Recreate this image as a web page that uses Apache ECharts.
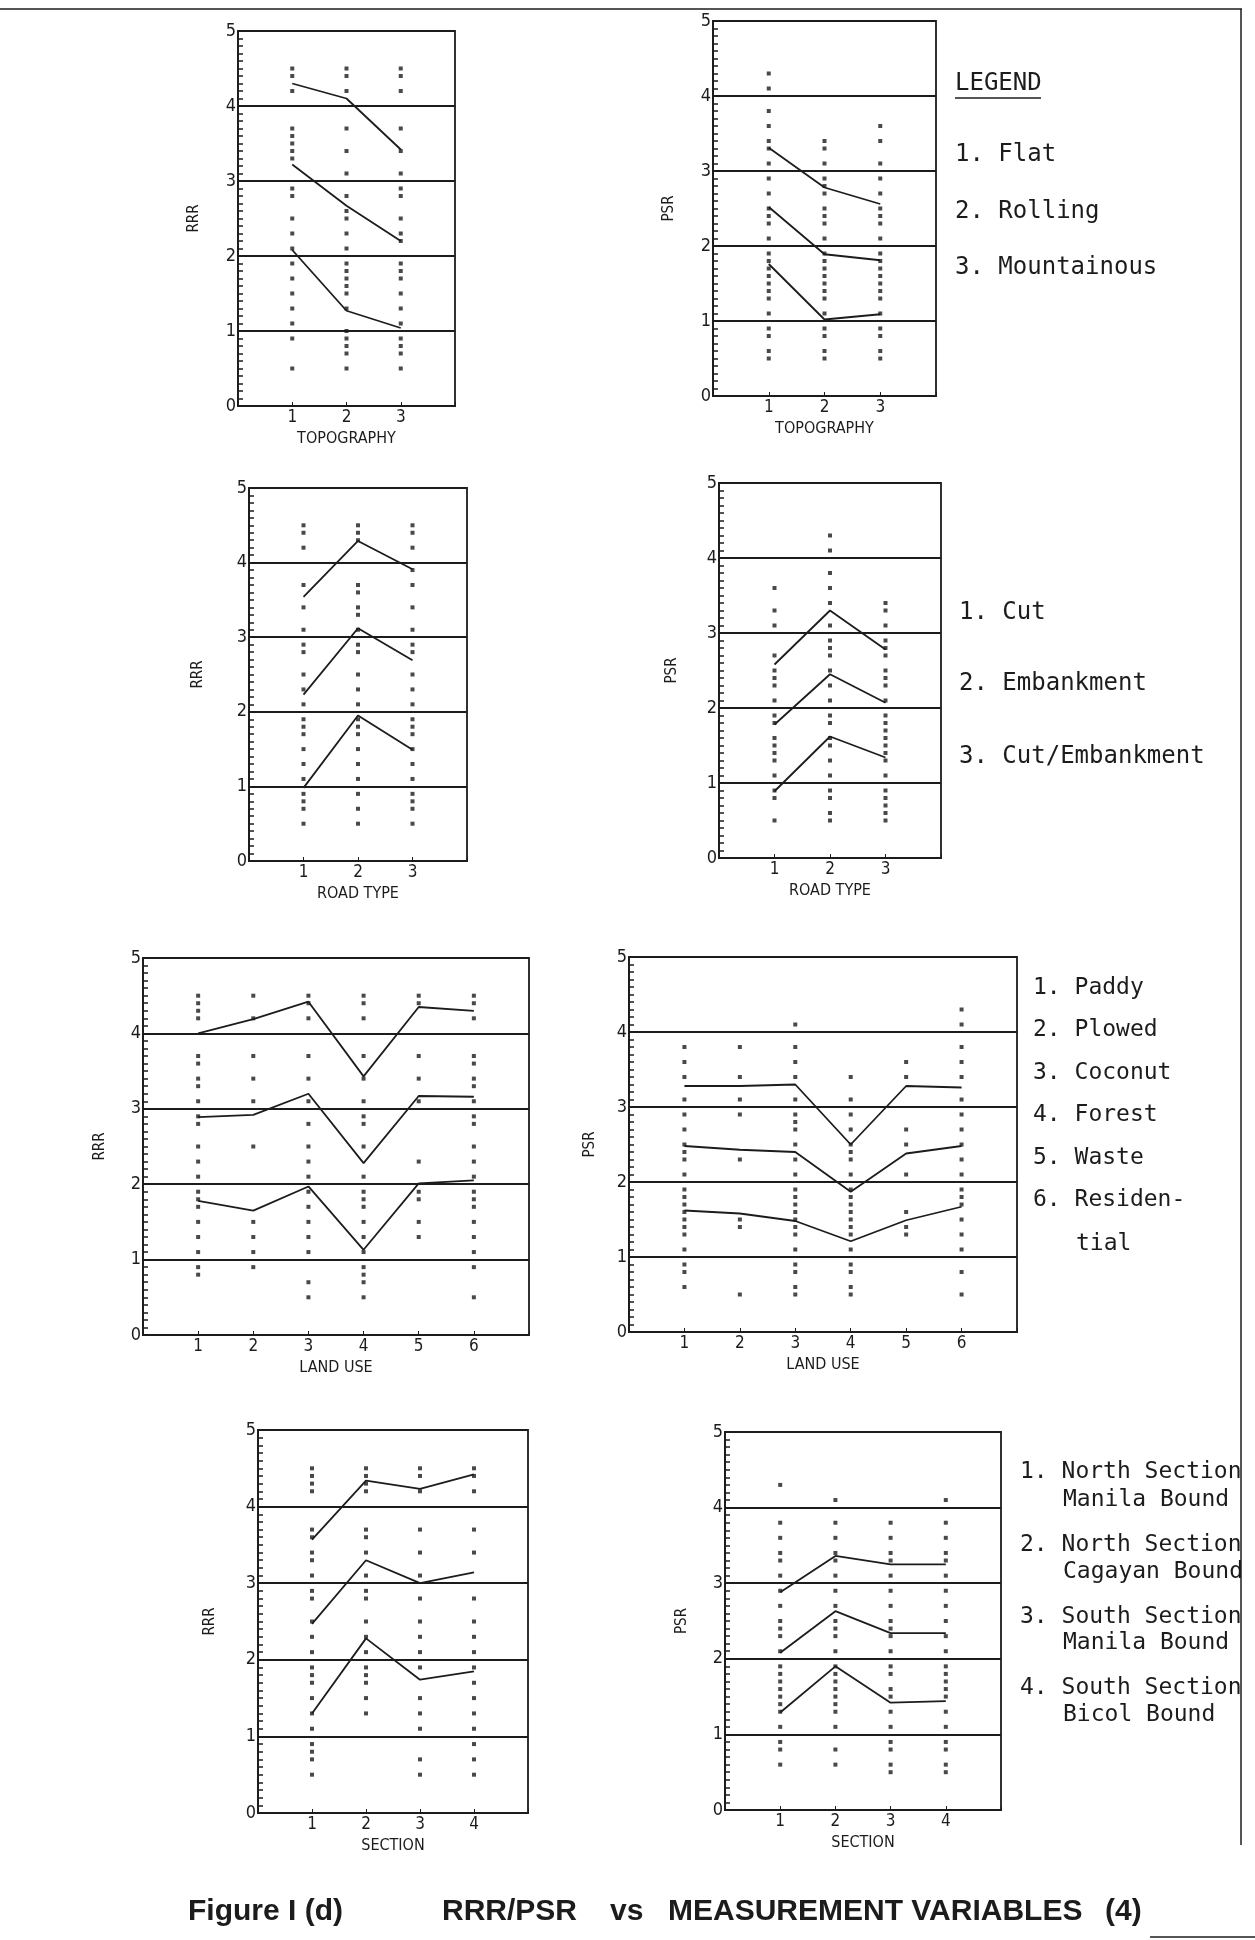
<!DOCTYPE html>
<html lang="en">
<head>
<meta charset="UTF-8">
<title>RRR/PSR vs Measurement Variables (4)</title>
<style>
  html, body { margin: 0; padding: 0; background: #fff; }
  #main { width: 1255px; height: 1940px; }
</style>
</head>
<body>
<div id="main"></div>
<script src="https://cdn.jsdelivr.net/npm/echarts@6/dist/echarts.min.js"></script>
<script type="text/javascript">
    // category tick labels
    var topoCats = ['1', '2', '3'];
    var roadCats = ['1', '2', '3'];
    var landCats = ['1', '2', '3', '4', '5', '6'];
    var sectionCats = ['1', '2', '3', '4'];

    // three lines per panel (upper, middle, lower), one value per category
    var topoRrrLines = [[4.3, 4.1, 3.42], [3.22, 2.67, 2.2], [2.08, 1.27, 1.04]];
    var topoPsrLines = [[3.31, 2.78, 2.56], [2.52, 1.89, 1.81], [1.76, 1.02, 1.09]];
    var roadRrrLines = [[3.54, 4.29, 3.91], [2.23, 3.12, 2.69], [0.98, 1.95, 1.49]];
    var roadPsrLines = [[2.58, 3.3, 2.78], [1.78, 2.45, 2.07], [0.89, 1.62, 1.34]];
    var landRrrLines = [[4.0, 4.19, 4.42, 3.43, 4.35, 4.3], [2.89, 2.92, 3.2, 2.28, 3.17, 3.16], [1.78, 1.65, 1.97, 1.13, 2.01, 2.05]];
    var landPsrLines = [[3.28, 3.28, 3.3, 2.5, 3.28, 3.26], [2.48, 2.43, 2.4, 1.87, 2.38, 2.48], [1.62, 1.58, 1.48, 1.21, 1.49, 1.67]];
    var sectionRrrLines = [[3.57, 4.34, 4.23, 4.42], [2.47, 3.3, 3.0, 3.14], [1.3, 2.28, 1.74, 1.85]];
    var sectionPsrLines = [[2.88, 3.36, 3.25, 3.25], [2.08, 2.63, 2.34, 2.34], [1.29, 1.9, 1.42, 1.44]];

    // observation dots, one column per category
    var topoRrrDots = [
        [4.5, 4.4, 4.2, 3.7, 3.6, 3.5, 3.4, 3.3, 2.9, 2.8, 2.5, 2.3, 2.1, 1.9, 1.7, 1.5, 1.3, 1.1, 0.9, 0.5],
        [4.5, 4.4, 4.2, 3.7, 3.4, 3.1, 2.8, 2.6, 2.5, 2.3, 2.1, 1.9, 1.8, 1.7, 1.6, 1.5, 1.3, 1.0, 0.9, 0.8, 0.7, 0.5],
        [4.5, 4.4, 4.2, 3.7, 3.4, 3.1, 2.9, 2.8, 2.5, 2.3, 2.2, 1.9, 1.8, 1.7, 1.5, 1.3, 1.1, 0.9, 0.8, 0.7, 0.5]
    ];
    var topoPsrDots = [
        [4.3, 4.1, 3.8, 3.6, 3.4, 3.3, 3.1, 2.9, 2.7, 2.5, 2.4, 2.3, 2.1, 1.9, 1.8, 1.7, 1.6, 1.5, 1.4, 1.3, 1.1, 0.9, 0.8, 0.6, 0.5],
        [3.4, 3.3, 3.1, 2.9, 2.8, 2.7, 2.5, 2.4, 2.3, 2.1, 1.9, 1.8, 1.7, 1.6, 1.5, 1.4, 1.3, 1.1, 0.9, 0.8, 0.6, 0.5],
        [3.6, 3.4, 3.1, 2.9, 2.7, 2.5, 2.4, 2.3, 2.1, 1.9, 1.8, 1.7, 1.6, 1.5, 1.4, 1.3, 1.1, 0.9, 0.8, 0.6, 0.5]
    ];
    var roadRrrDots = [
        [4.5, 4.4, 4.2, 3.7, 3.4, 3.1, 2.9, 2.8, 2.5, 2.3, 2.1, 1.9, 1.8, 1.7, 1.5, 1.3, 1.1, 0.9, 0.8, 0.7, 0.5],
        [4.5, 4.4, 4.3, 3.7, 3.6, 3.4, 3.3, 3.1, 2.9, 2.8, 2.5, 2.3, 2.1, 1.9, 1.8, 1.7, 1.5, 1.3, 1.1, 0.9, 0.7, 0.5],
        [4.5, 4.4, 4.2, 3.9, 3.7, 3.4, 3.1, 2.9, 2.8, 2.5, 2.3, 2.1, 1.9, 1.8, 1.7, 1.5, 1.3, 1.1, 0.9, 0.8, 0.7, 0.5]
    ];
    var roadPsrDots = [
        [3.6, 3.3, 3.1, 2.7, 2.5, 2.4, 2.3, 2.1, 1.9, 1.8, 1.6, 1.5, 1.4, 1.3, 1.1, 0.9, 0.8, 0.5],
        [4.3, 4.1, 3.8, 3.6, 3.4, 3.1, 2.9, 2.8, 2.7, 2.5, 2.3, 2.1, 1.9, 1.8, 1.6, 1.5, 1.3, 1.1, 0.9, 0.8, 0.6, 0.5],
        [3.4, 3.3, 3.1, 2.9, 2.8, 2.7, 2.5, 2.4, 2.3, 2.1, 1.9, 1.8, 1.7, 1.6, 1.5, 1.4, 1.3, 1.1, 0.9, 0.8, 0.7, 0.6, 0.5]
    ];
    var landRrrDots = [
        [4.5, 4.4, 4.3, 4.2, 3.7, 3.6, 3.4, 3.3, 3.1, 2.9, 2.8, 2.5, 2.3, 2.1, 1.9, 1.8, 1.7, 1.5, 1.3, 1.1, 0.9, 0.8],
        [4.5, 4.2, 3.7, 3.4, 3.1, 2.5, 1.5, 1.3, 1.1, 0.9],
        [4.5, 4.4, 4.2, 3.7, 3.4, 3.1, 2.8, 2.5, 2.3, 2.1, 1.9, 1.7, 1.5, 1.3, 1.1, 0.7, 0.5],
        [4.5, 4.4, 4.2, 3.7, 3.4, 3.1, 2.9, 2.8, 2.5, 2.1, 1.9, 1.8, 1.7, 1.5, 1.3, 1.1, 0.9, 0.8, 0.7, 0.5],
        [4.5, 4.4, 3.7, 3.4, 3.1, 2.3, 1.9, 1.8, 1.5, 1.3],
        [4.5, 4.4, 4.2, 3.7, 3.6, 3.4, 3.3, 3.1, 2.9, 2.8, 2.5, 2.3, 2.1, 1.9, 1.8, 1.7, 1.5, 1.3, 1.1, 0.9, 0.5]
    ];
    var landPsrDots = [
        [3.8, 3.6, 3.4, 3.1, 2.9, 2.7, 2.5, 2.4, 2.3, 2.1, 1.9, 1.8, 1.7, 1.6, 1.5, 1.4, 1.3, 1.1, 0.9, 0.8, 0.6],
        [3.8, 3.4, 3.1, 2.9, 2.3, 1.5, 1.4, 0.5],
        [4.1, 3.8, 3.6, 3.4, 3.1, 2.9, 2.8, 2.7, 2.5, 2.3, 2.1, 1.9, 1.8, 1.7, 1.6, 1.5, 1.4, 1.3, 1.1, 0.9, 0.8, 0.6, 0.5],
        [3.4, 3.1, 2.9, 2.7, 2.5, 2.4, 2.3, 2.1, 1.9, 1.8, 1.7, 1.6, 1.5, 1.4, 1.3, 1.1, 0.9, 0.8, 0.6, 0.5],
        [3.6, 3.4, 2.7, 2.5, 2.1, 1.6, 1.4, 1.3],
        [4.3, 4.1, 3.8, 3.6, 3.4, 3.1, 2.9, 2.7, 2.5, 2.3, 2.1, 1.9, 1.8, 1.7, 1.5, 1.3, 1.1, 0.8, 0.5]
    ];
    var sectionRrrDots = [
        [4.5, 4.4, 4.3, 4.2, 3.7, 3.6, 3.4, 3.3, 3.1, 2.9, 2.8, 2.5, 2.3, 2.1, 1.9, 1.8, 1.7, 1.5, 1.3, 1.1, 0.9, 0.8, 0.7, 0.5],
        [4.5, 4.4, 4.3, 4.2, 3.7, 3.6, 3.4, 3.1, 2.9, 2.8, 2.5, 2.3, 2.1, 1.9, 1.8, 1.7, 1.5, 1.3],
        [4.5, 4.4, 4.2, 3.7, 3.4, 3.1, 2.8, 2.5, 2.3, 2.1, 1.9, 1.5, 1.3, 1.1, 0.7, 0.5],
        [4.5, 4.4, 4.2, 3.7, 3.4, 2.8, 2.5, 2.3, 2.1, 1.9, 1.7, 1.5, 1.3, 1.1, 0.9, 0.7, 0.5]
    ];
    var sectionPsrDots = [
        [4.3, 3.8, 3.6, 3.4, 3.3, 3.1, 2.9, 2.7, 2.5, 2.4, 2.3, 2.1, 1.9, 1.8, 1.7, 1.6, 1.5, 1.4, 1.3, 1.1, 0.9, 0.8, 0.6],
        [4.1, 3.8, 3.6, 3.4, 3.3, 3.1, 2.9, 2.7, 2.5, 2.4, 2.3, 2.1, 1.9, 1.8, 1.7, 1.6, 1.5, 1.4, 1.3, 1.1, 0.8, 0.6],
        [3.8, 3.6, 3.4, 3.3, 3.1, 2.9, 2.7, 2.5, 2.4, 2.3, 2.1, 1.9, 1.8, 1.6, 1.5, 1.3, 1.1, 0.9, 0.8, 0.6, 0.5],
        [4.1, 3.8, 3.6, 3.4, 3.3, 3.1, 2.9, 2.7, 2.5, 2.3, 2.1, 1.9, 1.8, 1.7, 1.6, 1.5, 1.3, 1.1, 0.9, 0.8, 0.6, 0.5]
    ];

    // legend texts
    var topoLegend = ['1. Flat', '2. Rolling', '3. Mountainous'];
    var roadLegend = ['1. Cut', '2. Embankment', '3. Cut/Embankment'];
    var landLegend = ['1. Paddy', '2. Plowed', '3. Coconut', '4. Forest', '5. Waste', '6. Residen-', 'tial'];
    var sectionLegend = ['1. North Section', 'Manila Bound', '2. North Section', 'Cagayan Bound',
        '3. South Section', 'Manila Bound', '4. South Section', 'Bicol Bound'];

    var ink = '#1c1c1c';
    var narrow = "'Liberation Sans Narrow', 'DejaVu Sans Condensed', sans-serif";
    var mono = "'DejaVu Sans Mono', 'Liberation Mono', monospace";

    var panels = [
        {left: 238, top: 31, width: 217, height: 375, max: 4, cats: topoCats, lines: topoRrrLines, dots: topoRrrDots, yName: 'RRR', xName: 'TOPOGRAPHY', yGap: 36},
        {left: 713, top: 21, width: 223, height: 375, max: 4, cats: topoCats, lines: topoPsrLines, dots: topoPsrDots, yName: 'PSR', xName: 'TOPOGRAPHY', yGap: 36},
        {left: 249, top: 488, width: 218, height: 373, max: 4, cats: roadCats, lines: roadRrrLines, dots: roadRrrDots, yName: 'RRR', xName: 'ROAD TYPE', yGap: 43},
        {left: 719, top: 483, width: 222, height: 375, max: 4, cats: roadCats, lines: roadPsrLines, dots: roadPsrDots, yName: 'PSR', xName: 'ROAD TYPE', yGap: 39},
        {left: 143, top: 958, width: 386, height: 377, max: 7, cats: landCats, lines: landRrrLines, dots: landRrrDots, yName: 'RRR', xName: 'LAND USE', yGap: 35},
        {left: 629, top: 957, width: 388, height: 375, max: 7, cats: landCats, lines: landPsrLines, dots: landPsrDots, yName: 'PSR', xName: 'LAND USE', yGap: 31},
        {left: 258, top: 1430, width: 270, height: 383, max: 5, cats: sectionCats, lines: sectionRrrLines, dots: sectionRrrDots, yName: 'RRR', xName: 'SECTION', yGap: 40},
        {left: 725, top: 1432, width: 276, height: 378, max: 5, cats: sectionCats, lines: sectionPsrLines, dots: sectionPsrDots, yName: 'PSR', xName: 'SECTION', yGap: 35}
    ];

    var grids = [], xAxes = [], yAxes = [], series = [];

    panels.forEach(function (p, i) {
        grids.push({
            left: p.left, top: p.top, width: p.width, height: p.height,
            show: true, borderColor: ink, borderWidth: 1.8, backgroundColor: 'transparent'
        });
        xAxes.push({
            gridIndex: i, type: 'value', min: 0, max: p.max, interval: 1,
            axisLine: {lineStyle: {color: ink, width: 1.8}},
            axisTick: {show: true, inside: true, length: 4, lineStyle: {color: ink}},
            splitLine: {show: false},
            axisLabel: {
                color: ink, fontSize: 17, margin: 3, fontFamily: narrow,
                formatter: function (v) {
                    return (v >= 1 && v <= p.cats.length) ? p.cats[v - 1] : '';
                }
            },
            name: p.xName, nameLocation: 'middle', nameGap: 25,
            nameTextStyle: {color: ink, fontSize: 16, fontFamily: narrow}
        });
        yAxes.push({
            gridIndex: i, type: 'value', min: 0, max: 5, interval: 1,
            axisLine: {show: true, lineStyle: {color: ink, width: 1.8}},
            axisTick: {show: true, inside: true, length: 7, lineStyle: {color: ink, width: 1.5}},
            minorTick: {show: true, splitNumber: 10, length: 5, lineStyle: {color: ink, width: 1.5}},
            splitLine: {show: true, lineStyle: {color: ink, width: 1.8}},
            axisLabel: {color: ink, fontSize: 18, margin: 2, fontFamily: narrow},
            name: p.yName, nameLocation: 'middle', nameRotate: 90, nameGap: p.yGap,
            nameTextStyle: {color: ink, fontSize: 15, fontFamily: narrow}
        });

        var pts = [];
        p.dots.forEach(function (col, ci) {
            col.forEach(function (v) { pts.push([ci + 1, v]); });
        });
        series.push({
            type: 'scatter', xAxisIndex: i, yAxisIndex: i, data: pts,
            symbol: 'rect', symbolSize: 4, itemStyle: {color: ink}, silent: true
        });
        p.lines.forEach(function (line) {
            series.push({
                type: 'line', xAxisIndex: i, yAxisIndex: i,
                data: line.map(function (v, ci) { return [ci + 1, v]; }),
                symbol: 'none', lineStyle: {color: ink, width: 1.8}, silent: true
            });
        });
    });

    function txt(x, y, s, font) {
        return {type: 'text', x: x, y: y, style: {text: s, font: font, fill: ink, textVerticalAlign: 'middle'}};
    }

    var legendFont = "24px " + mono;
    var legendFontSm = "23px " + mono;
    var gfx = [];
    // page frame
    gfx.push({type: 'line', shape: {x1: 0, y1: 9, x2: 1242, y2: 9}, style: {stroke: ink, lineWidth: 1.5}});
    gfx.push({type: 'line', shape: {x1: 1241, y1: 9, x2: 1241, y2: 1845}, style: {stroke: ink, lineWidth: 1.5}});
    gfx.push({type: 'line', shape: {x1: 1150, y1: 1937, x2: 1255, y2: 1937}, style: {stroke: ink, lineWidth: 1.5}});

    gfx.push(txt(955, 84, 'LEGEND', legendFont));
    gfx.push({type: 'line', shape: {x1: 955, y1: 98, x2: 1041, y2: 98}, style: {stroke: ink, lineWidth: 1.5}});
    [155, 212, 268].forEach(function (y, k) { gfx.push(txt(955, y, topoLegend[k], legendFont)); });
    [613, 684, 757].forEach(function (y, k) { gfx.push(txt(959, y, roadLegend[k], legendFont)); });
    [988, 1030, 1073, 1115, 1158, 1200, 1244].forEach(function (y, k) {
        gfx.push(txt(k === 6 ? 1076 : 1033, y, landLegend[k], legendFontSm));
    });
    [1472, 1500, 1545, 1572, 1617, 1643, 1688, 1715].forEach(function (y, k) {
        gfx.push(txt(k % 2 ? 1063 : 1020, y, sectionLegend[k], legendFontSm));
    });

    var titleFont = "bold 30px 'Liberation Sans', Arial, sans-serif";
    gfx.push(txt(188, 1912, 'Figure I (d)', titleFont));
    gfx.push(txt(442, 1912, 'RRR/PSR', titleFont));
    gfx.push(txt(610, 1912, 'vs', titleFont));
    gfx.push(txt(668, 1912, 'MEASUREMENT VARIABLES', titleFont));
    gfx.push(txt(1105, 1912, '(4)', titleFont));

    var myChart = echarts.init(document.getElementById('main'), null, {renderer: 'canvas'});
    myChart.setOption({
        backgroundColor: '#ffffff',
        animation: false,
        grid: grids,
        xAxis: xAxes,
        yAxis: yAxes,
        series: series,
        graphic: gfx
    });
</script>
</body>
</html>
